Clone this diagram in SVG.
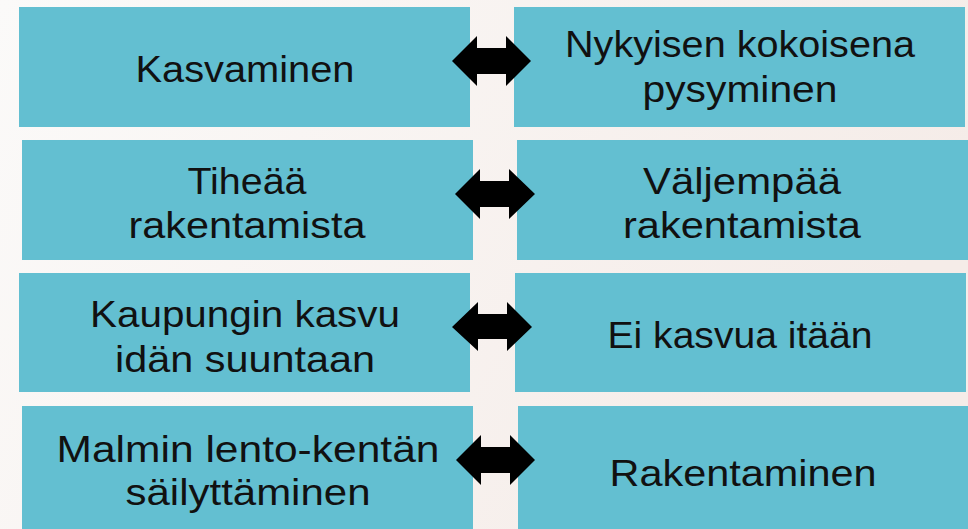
<svg xmlns="http://www.w3.org/2000/svg" width="968" height="529" viewBox="0 0 968 529">
<defs>
<linearGradient id="bg" x1="0" y1="0" x2="1" y2="0.3">
<stop offset="0" stop-color="#fbfaf9"/>
<stop offset="1" stop-color="#f5ece8"/>
</linearGradient>
</defs>
<style>
.box{fill:#63bfd1}
.t{font-family:"Liberation Sans",Arial,sans-serif;font-size:37.5px;fill:#111;text-anchor:middle}
.arr{fill:#000}
</style>
<rect width="968" height="529" fill="url(#bg)"/>
<g id="n1"><rect class="box" x="19" y="7" width="451" height="120"/><text class="t" x="245" y="82" textLength="219" lengthAdjust="spacingAndGlyphs">Kasvaminen</text></g>
<g id="n2"><rect class="box" x="514" y="7" width="451" height="120"/><text class="t"><tspan x="740" y="57" textLength="350" lengthAdjust="spacingAndGlyphs">Nykyisen kokoisena</tspan><tspan x="740" y="102" textLength="195" lengthAdjust="spacingAndGlyphs">pysyminen</tspan></text></g>
<g id="n3"><rect class="box" x="22" y="140" width="451" height="120"/><text class="t"><tspan x="247" y="194" textLength="119" lengthAdjust="spacingAndGlyphs">Tiheää</tspan><tspan x="247" y="238" textLength="237" lengthAdjust="spacingAndGlyphs">rakentamista</tspan></text></g>
<g id="n4"><rect class="box" x="517" y="140" width="451" height="120"/><text class="t"><tspan x="742" y="194" textLength="198" lengthAdjust="spacingAndGlyphs">Väljempää</tspan><tspan x="742" y="238" textLength="238" lengthAdjust="spacingAndGlyphs">rakentamista</tspan></text></g>
<g id="n5"><rect class="box" x="19" y="273" width="451" height="119"/><text class="t"><tspan x="245" y="327" textLength="310" lengthAdjust="spacingAndGlyphs">Kaupungin kasvu</tspan><tspan x="245" y="372" textLength="260" lengthAdjust="spacingAndGlyphs">idän suuntaan</tspan></text></g>
<g id="n6"><rect class="box" x="515" y="273" width="451" height="119"/><text class="t" x="740" y="348" textLength="265" lengthAdjust="spacingAndGlyphs">Ei kasvua itään</text></g>
<g id="n7"><rect class="box" x="22" y="406" width="451" height="123"/><text class="t"><tspan x="248" y="462" textLength="383" lengthAdjust="spacingAndGlyphs">Malmin lento-kentän</tspan><tspan x="248" y="505" textLength="245" lengthAdjust="spacingAndGlyphs">säilyttäminen</tspan></text></g>
<g id="n8"><rect class="box" x="518" y="406" width="450" height="123"/><text class="t" x="743" y="486" textLength="267" lengthAdjust="spacingAndGlyphs">Rakentaminen</text></g>
<g id="connectors">
<polygon class="arr" points="452,61 477,36 477,48 506,48 506,36 531,61 506,86 506,74 477,74 477,86"/>
<polygon class="arr" points="455,194 480,169 480,181 509,181 509,169 535,194 509,219 509,207 480,207 480,219"/>
<polygon class="arr" points="452,327 478,302 478,314 507,314 507,302 532,327 507,351 507,339 478,339 478,351"/>
<polygon class="arr" points="456,460 481,435 481,447 510,447 510,435 535,460 510,485 510,473 481,473 481,485"/>
</g>
</svg>
